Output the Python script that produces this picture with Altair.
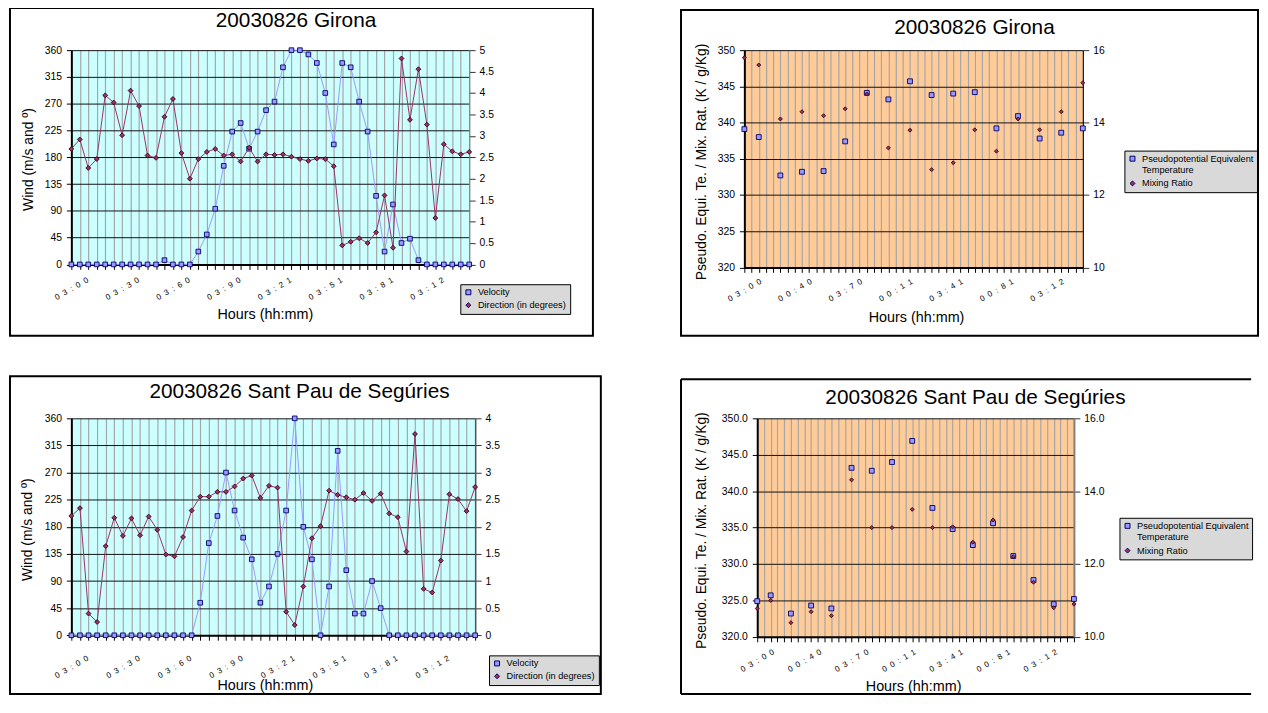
import json
import altair as alt
import pandas as pd

FONT = "Liberation Sans"

# ---------------- categories / tick labels ----------------
slots = list(range(48))  # 48 half-hour slots of the day
wind_tick_glyphs = ["03:00", "03:30", "03:60", "03:90", "03:21", "03:51", "03:81", "03:12"]   # one every 6 slots
thermo_tick_glyphs = ["03:00", "00:40", "03:70", "00:11", "03:41", "00:81", "03:12"]          # one every 7 slots

wind_series = ["Velocity", "Direction (in degrees)"]
thermo_series = ["Pseudopotential Equivalent Temperature", "Mixing Ratio"]
x_title = "Hours (hh:mm)"
wind_y_title = "Wind (m/s and º)"
thermo_y_title = "Pseudo. Equi. Te. / Mix. Rat. (K / g/Kg)"

# ---------------- Girona wind ----------------
girona_velocity = [0, 0, 0, 0, 0, 0, 0, 0, 0, 0, 0, 0.1, 0, 0, 0, 0.3, 0.7, 1.3, 2.3, 3.1,
                   3.3, 2.7, 3.1, 3.6, 3.8, 4.6, 5.0, 5.0, 4.9, 4.7, 4.0, 2.8, 4.7, 4.6, 3.8, 3.1,
                   1.6, 0.3, 1.4, 0.5, 0.6, 0.1, 0, 0, 0, 0, 0, 0]
girona_direction = [194, 210, 162, 177, 284, 272, 217, 292, 266, 183, 179, 248, 278, 187, 144, 177,
                    189, 194, 183, 185, 173, 196, 173, 185, 184, 185, 181, 177, 174, 178, 177, 165,
                    32, 38, 44, 36, 54, 116, 28, 346, 243, 328, 235, 78, 202, 190, 185, 189]

# ---------------- Sant Pau de Seguries wind ----------------
santpau_velocity = [0, 0, 0, 0, 0, 0, 0, 0, 0, 0, 0, 0, 0, 0, 0, 0.6, 1.7, 2.2, 3.0, 2.3,
                    1.8, 1.4, 0.6, 0.9, 1.5, 2.3, 4.0, 2.0, 1.4, 0, 0.9, 3.4, 1.2, 0.4, 0.4, 1.0,
                    0.5, 0, 0, 0, 0, 0, 0, 0, 0, 0, 0, 0]
santpau_direction = [198, 211, 36, 22, 148, 195, 165, 194, 166, 197, 175, 134, 131, 163, 207, 230,
                     230, 238, 238, 247, 260, 265, 228, 248, 245, 39, 17, 81, 161, 181, 240, 233,
                     229, 225, 236, 223, 235, 202, 196, 139, 334, 77, 71, 124, 234, 226, 206, 246]

# ---------------- thermodynamic series (sampled slots) ----------------
thermo_slots = [0, 2, 5, 8, 11, 14, 17, 20, 23, 26, 29, 32, 35, 38, 41, 44, 47]
girona_pet = [339.1, 338.0, 332.7, 333.2, 333.3, 337.4, 344.1, 343.2, 345.7, 343.8, 344.0,
              344.2, 339.2, 340.9, 337.8, 338.6, 339.2]
girona_mr = [15.79, 15.59, 14.1, 14.3, 14.19, 14.38, 14.79, 13.3, 13.79, 12.7, 12.89,
             13.8, 13.21, 14.1, 13.8, 14.3, 15.1]
santpau_pet = [324.9, 325.7, 323.2, 324.3, 323.9, 343.2, 342.8, 344.0, 346.9, 337.7, 334.8,
               332.6, 335.6, 331.1, 327.8, 324.5, 325.2]
santpau_mr = [10.78, 11.0, 10.39, 10.69, 10.58, 14.31, 13.0, 13.0, 13.5, 13.0, 13.02,
              12.6, 13.21, 12.2, 11.5, 10.8, 10.9]

VEL_COLOR = "#9999ff"
DIR_COLOR = "#993366"
TOP_EXTENT = 43.5  # every panel reserves the same room above its plot area


def x_enc(glyphs, every, label_pad):
    labels = ["\u00a0\u00a0".join(g) for g in glyphs]
    arr = json.dumps(labels, ensure_ascii=False)
    expr = (f"datum.value % {every} === 0 && datum.value / {every} < {len(labels)} "
            f"? {arr}[datum.value / {every}] : ''")
    return alt.X(
        "slot:Q",
        scale=alt.Scale(domain=[0, 47], nice=False, zero=False),
        axis=alt.Axis(
            values=slots, labelExpr=expr, labelAngle=-30, labelAlign="center",
            labelBaseline="middle", labelPadding=label_pad, labelFontSize=8, labelFont=FONT,
            labelColor="#000", labelOverlap=False, labelFlush=False, labelBound=False,
            grid=True, gridColor="#a6a6a6", gridWidth=1.2,
            ticks=True, tickSize=5, tickColor="#000", tickWidth=1,
            domain=True, domainColor="#000", domainWidth=2, title=None,
        ),
    )


def y_left(domain, values, fmt):
    return alt.Y(
        "value:Q",
        scale=alt.Scale(domain=domain, nice=False, zero=False),
        axis=alt.Axis(
            orient="left", values=values, format=fmt, grid=True, gridColor="#111111", gridWidth=1,
            ticks=True, tickSize=5, tickColor="#000", domainColor="#000", domainWidth=2,
            labelFont=FONT, labelFontSize=10.5, labelColor="#000", labelPadding=5, title=None,
        ),
    )


def y_right(domain, values, fmt, dom_color, dom_width):
    return alt.Y(
        "value:Q",
        scale=alt.Scale(domain=domain, nice=False, zero=False),
        axis=alt.Axis(
            orient="right", values=values, format=fmt, grid=False,
            ticks=True, tickSize=6, tickColor="#333", domainColor=dom_color, domainWidth=dom_width,
            labelFont=FONT, labelFontSize=10.5, labelColor="#000", labelPadding=4, title=None,
        ),
    )


def legend_def(lx, ly, series):
    arr0 = json.dumps(series[0])
    if len(series[0]) > 30:
        words = series[0].split(" ")
        first = " ".join(words[:-1])
        expr = f"datum.label === {arr0} ? {json.dumps([first, words[-1]])} : datum.label"
    else:
        expr = "datum.label"
    return alt.Legend(
        orient="none", legendX=lx, legendY=ly, title=None, fillColor="#d9d9d9",
        strokeColor="#000", padding=3.5, labelFont=FONT, labelFontSize=9.3, labelColor="#000",
        labelOffset=5, symbolSize=25, symbolStrokeWidth=1, rowPadding=3, labelLimit=300,
        labelExpr=expr,
    )


def enc_color_shape(series, legend):
    color = alt.Color("series:N", scale=alt.Scale(domain=series, range=[VEL_COLOR, DIR_COLOR]),
                      legend=legend)
    shape = alt.Shape("series:N", scale=alt.Scale(domain=series, range=["square", "diamond"]),
                      legend=legend)
    return color, shape


def box_rect(x0, x1, y0, y1):
    return [alt.Chart(alt.Data(values=[{}])).mark_rect(
        fillOpacity=0, stroke="#000", strokeWidth=2
    ).encode(x=alt.value(x0), x2=alt.value(x1), y=alt.value(y0), y2=alt.value(y1))]


def box_open(x0, x1, y0, y1):
    d = alt.Data(values=[{}])
    top = alt.Chart(d).mark_rule(stroke="#000", strokeWidth=2).encode(
        x=alt.value(x0), x2=alt.value(x1), y=alt.value(y0))
    bot = alt.Chart(d).mark_rule(stroke="#000", strokeWidth=2).encode(
        x=alt.value(x0), x2=alt.value(x1), y=alt.value(y1))
    left = alt.Chart(d).mark_rule(stroke="#000", strokeWidth=2).encode(
        x=alt.value(x0), y=alt.value(y0), y2=alt.value(y1))
    return [top, bot, left]


def spacer():
    return alt.Chart(alt.Data(values=[{}])).mark_rect(opacity=0).encode(
        x=alt.value(0), x2=alt.value(1), y=alt.value(-TOP_EXTENT), y2=alt.value(-TOP_EXTENT + 2))


def text_layer(txt, x, y, size, angle=0):
    return alt.Chart(pd.DataFrame({"t": [txt]})).mark_text(
        font=FONT, fontSize=size, align="center", baseline="middle", color="#000", angle=angle
    ).encode(x=alt.value(x), y=alt.value(y), text="t:N")


def decorations(box_layers, title, title_xy, ytitle, ytitle_xy, xtitle_xy):
    return list(box_layers) + [
        spacer(),
        text_layer(title, *title_xy, 21),
        text_layer(ytitle, *ytitle_xy, 14, angle=270),
        text_layer(x_title, *xtitle_xy, 14.5),
    ]


def wind_panel(title, velocity, direction, vmax, vvalues, width, height, box, title_xy,
               ytitle_xy, xtitle_xy, legend_xy, label_pad, right_dom):
    X = x_enc(wind_tick_glyphs, 6, label_pad)
    yl = y_left([0, 360], list(range(0, 361, 45)), "d")
    yr = y_right([0, vmax], vvalues, "~g", *right_dom)
    leg = legend_def(*legend_xy, wind_series)
    color, shape = enc_color_shape(wind_series, leg)
    vdf = pd.DataFrame({"slot": slots, "value": velocity, "series": wind_series[0]})
    ddf = pd.DataFrame({"slot": slots, "value": direction, "series": wind_series[1]})
    vel = alt.layer(
        alt.Chart(vdf).mark_line(color=VEL_COLOR, strokeWidth=1).encode(x=X, y=yr),
        alt.Chart(vdf).mark_point(filled=True, size=22, stroke="#000066", strokeWidth=0.9,
                                  opacity=1).encode(x=X, y=yr, color=color, shape=shape),
    )
    dirl = alt.layer(
        alt.Chart(ddf).mark_line(color=DIR_COLOR, strokeWidth=1).encode(x=X, y=yl),
        alt.Chart(ddf).mark_point(filled=True, size=24, stroke="#330011", strokeWidth=0.9,
                                  opacity=1).encode(x=X, y=yl, color=color, shape=shape),
    )
    layers = decorations(box_rect(*box), title, title_xy, wind_y_title, ytitle_xy, xtitle_xy)
    layers += [vel, dirl]
    return alt.layer(*layers).resolve_scale(y="independent").properties(
        width=width, height=height, view=alt.ViewBackground(fill="#ccffff", stroke="transparent"))


def thermo_panel(title, pet, mr, fmt, width, height, box_layers, title_xy, ytitle_xy,
                 xtitle_xy, legend_xy, label_pad, right_dom):
    X = x_enc(thermo_tick_glyphs, 7, label_pad)
    yl = y_left([320, 350], list(range(320, 351, 5)), fmt)
    yr = y_right([10, 16], [10, 12, 14, 16], fmt, *right_dom)
    leg = legend_def(*legend_xy, thermo_series)
    color, shape = enc_color_shape(thermo_series, leg)
    pdf = pd.DataFrame({"slot": thermo_slots, "value": pet, "series": thermo_series[0]})
    mdf = pd.DataFrame({"slot": thermo_slots, "value": mr, "series": thermo_series[1]})
    p1 = alt.Chart(pdf).mark_point(filled=True, size=24, stroke="#000066", strokeWidth=0.9,
                                   opacity=1).encode(x=X, y=yl, color=color, shape=shape)
    p2 = alt.Chart(mdf).mark_point(filled=True, size=16, stroke="#330011", strokeWidth=0.9,
                                   opacity=1).encode(x=X, y=yr, color=color, shape=shape)
    layers = decorations(box_layers, title, title_xy, thermo_y_title, ytitle_xy, xtitle_xy)
    layers += [p1, p2]
    return alt.layer(*layers).resolve_scale(y="independent").properties(
        width=width, height=height, view=alt.ViewBackground(fill="#ffcc99", stroke="transparent"))


tl = wind_panel("20030826 Girona", girona_velocity, girona_direction, 5,
                [0, 0.5, 1, 1.5, 2, 2.5, 3, 3.5, 4, 4.5, 5], 402, 216.5,
                (-62, 527, -42.5, 288.5), (227, -29), (-43, 110.5), (196, 267.5),
                (393, 236.5), 19.5, ("#808080", 1))
tr = thermo_panel("20030826 Girona", girona_pet, girona_mr, "d", 342, 219.5,
                  box_rect(-64, 519, -40.5, 288.5), (232.5, -22), (-42.5, 113), (174, 270.5),
                  (384, 101.5), 18, ("#000", 1))
bl = wind_panel("20030826 Sant Pau de Segúries", santpau_velocity, santpau_direction, 4,
                [0, 0.5, 1, 1.5, 2, 2.5, 3, 3.5, 4], 408, 219.2,
                (-62, 535, -42.5, 278.5), (230.5, -27), (-43.5, 112.5), (196, 270),
                (422, 239.5), 27, ("#555", 1.5))
br = thermo_panel("20030826 Sant Pau de Segúries", santpau_pet, santpau_mr, ".1f", 320, 220.8,
                  box_open(-77, 499, -39.5, 278.5), (220.5, -20), (-55.5, 113.5), (158, 271),
                  (366, 100.5), 19, ("#808080", 2))

chart = alt.concat(
    tl, tr, bl, br, columns=2, align="none", bounds="full",
    spacing=alt.RowColnumber(row=38, column=77),
    padding={"top": -5, "bottom": 0, "left": 0, "right": 0}, background="white",
).resolve_scale(color="independent", shape="independent").configure(font=FONT)

chart.save("out.html", embed_options={"renderer": "svg", "actions": False})
